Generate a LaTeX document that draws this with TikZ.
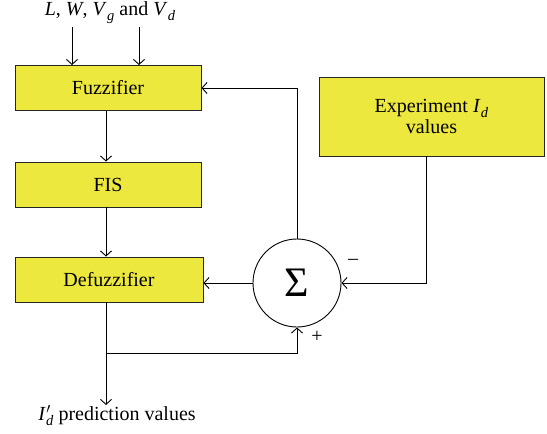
\documentclass[tikz,border=0pt]{standalone}
\usepackage{fontspec}
\setmainfont{Liberation Serif}
\usetikzlibrary{arrows.meta}
\definecolor{boxyellow}{HTML}{EDE83D}
\newcommand{\ivar}[2]{\textit{#1}\kern0.5pt\raisebox{-0.25em}{\fontsize{14.5pt}{14pt}\selectfont\textit{#2}}}
\tikzset{
  blockbox/.style={draw=black!85, line width=0.9pt, fill=boxyellow,
    minimum width=186pt, minimum height=45pt, inner sep=0pt, font=\fontsize{20pt}{23pt}\selectfont},
  flow/.style={line width=0.9pt, -{Straight Barb[length=5pt,width=11pt,line width=0.9pt]}},
  wire/.style={line width=0.9pt},
  lbl/.style={inner sep=0pt, font=\fontsize{20pt}{23pt}\selectfont},
  sign/.style={inner sep=0pt, font=\fontsize{20pt}{20pt}\selectfont}
}
\begin{document}
\begin{tikzpicture}[x=1pt,y=-1pt]
\useasboundingbox (0,0) rectangle (547,434);

% processing chain
\node[blockbox] (fuzz) at (108,88) {Fuzzifier};
\node[blockbox] (fis) at (108,184.5) {FIS};
\node[blockbox, minimum width=188pt] (defuzz) at (109,279.5) {Defuzzifier};
\node[blockbox, minimum width=225pt, minimum height=79pt, align=center] (exp) at (431.5,116.5)
  {Experiment \ivar{I}{d}\\[-2pt]values};

% summing junction
\node[draw, line width=0.9pt, circle, minimum size=88pt, inner sep=0pt,
  font=\fontsize{42pt}{42pt}\selectfont] (sum) at (297,283) {Σ};

% inputs
\node[lbl] (in) at (110,13) {\textit{L}, \textit{W}, \ivar{V}{g} and \ivar{V}{d}};
\coordinate (inA) at (72,27);
\coordinate (inB) at (139,27);
\draw[flow] (inA) -- (inA |- fuzz.north);
\draw[flow] (inB) -- (inB |- fuzz.north);

% forward path
\draw[flow] (fuzz.south -| 106,0) -- (fis.north -| 106,0);
\draw[flow] (fis.south -| 106,0) -- (defuzz.north -| 106,0);

% error feedback
\draw[flow] (sum.north) |- (fuzz.east |- 0,88);
\draw[flow] (sum.west) -- (defuzz.east |- sum.west);
\draw[flow] (exp.south -| 426,0) |- (sum.east);

% output and comparison
\coordinate (split) at (106,353);
\node[lbl, anchor=north] (out) at (117,405) {\textit{I}\kern0.5pt$\mathstrut^{\prime}$\kern-4.5pt\raisebox{-0.25em}{\fontsize{14.5pt}{14pt}\selectfont\textit{d}}\ prediction values};
\draw[wire] (defuzz.south -| split) -- (split);
\draw[flow] (split) -- (split |- out.north);
\draw[flow] (split) -| (sum.south);

% signs
\node[sign] (plus) at (317,337) {+};
\node[sign] (minus) at (353,262) {–};
\end{tikzpicture}
\end{document}
